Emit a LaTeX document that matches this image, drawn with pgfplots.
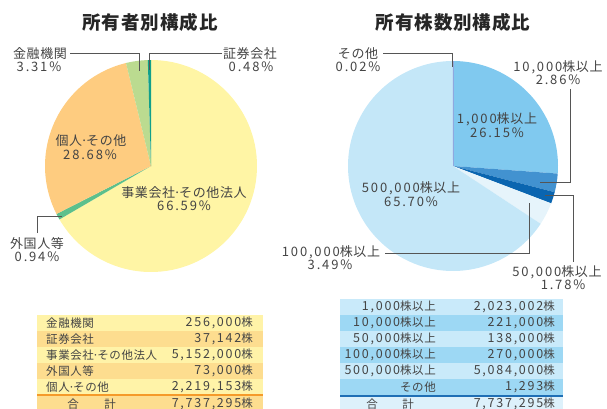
\documentclass[border=0pt]{standalone}
\usepackage{pgfplots}
\pgfplotsset{compat=1.18}
\usepackage{fontspec}
\setmainfont{Noto Sans CJK JP}[LetterSpace=5]
\newfontfamily\numf{Noto Sans CJK JP}[LetterSpace=14]
\newcommand\md{\makebox[0.3em]{·}}
\newcommand\N[1]{{\numf #1}}
\newcommand\TN[1]{{\fontsize{12.5}{12}\numf #1}}
\definecolor{cY}{HTML}{FFF5A5}
\definecolor{cO}{HTML}{FECC80}
\definecolor{cLG}{HTML}{BBDB90}
\definecolor{cG}{HTML}{5CC08C}
\definecolor{cT}{HTML}{12A08A}
\definecolor{b1}{HTML}{80C9EF}
\definecolor{b2}{HTML}{4292D0}
\definecolor{b3}{HTML}{0A65B0}
\definecolor{b4}{HTML}{E6F4FB}
\definecolor{b5}{HTML}{C4E7F8}
\definecolor{b6}{HTML}{8FA8E0}
\definecolor{txt}{HTML}{444444}
\definecolor{lead}{HTML}{555555}
\definecolor{ty1}{HTML}{FFF3A8}
\definecolor{ty2}{HTML}{FDDD8F}
\definecolor{tyl}{HTML}{F59A2A}
\definecolor{tb1}{HTML}{C9EAFA}
\definecolor{tb2}{HTML}{9DD8F4}
\definecolor{tbl}{HTML}{1F6FB5}
\definecolor{tb0}{HTML}{DDF1FB}
\tikzset{
  lab/.style={font=\fontsize{13}{13}\selectfont, text=txt, inner sep=0pt},
  tab/.style={font=\fontsize{11.5}{12}\selectfont, text=txt, inner sep=0pt},
  ttl/.style={font=\fontsize{18.5}{20}\selectfont\bfseries, text=black!85, inner sep=0pt},
  ld/.style={draw=lead, line width=0.9pt}
}
\begin{document}
\begin{tikzpicture}
% left pie: shares by owner (%), clockwise from top
\pgfmathsetmacro\La{90}
\pgfmathsetmacro\Lb{\La-66.59*3.6}
\pgfmathsetmacro\Lc{\Lb-0.94*3.6}
\pgfmathsetmacro\Ld{\Lc-28.68*3.6}
\pgfmathsetmacro\Le{\Ld-3.31*3.6}
\pgfmathsetmacro\Lf{\Le-0.48*3.6}
% right pie: by holding size (%)
\pgfmathsetmacro\Ra{90}
\pgfmathsetmacro\Rb{\Ra-26.15*3.6}
\pgfmathsetmacro\Rc{\Rb-2.86*3.6}
\pgfmathsetmacro\Rd{\Rc-1.78*3.6}
\pgfmathsetmacro\Re{\Rd-3.49*3.6}
\pgfmathsetmacro\Rf{\Re-65.70*3.6}
\pgfmathsetmacro\Rg{\Rf-0.02*3.6}
\begin{axis}[width=607pt,height=409pt,scale only axis,
  xmin=0,xmax=607,ymin=0,ymax=409,y dir=reverse,
  hide axis,clip=false,enlargelimits=false]
% ---------- left pie
\fill[cY] (axis cs:151,166) -- ++(\La:106pt) arc[start angle=\La,end angle=\Lb,radius=106pt] -- cycle;
\fill[cG] (axis cs:151,166) -- ++(\Lb:106pt) arc[start angle=\Lb,end angle=\Lc,radius=106pt] -- cycle;
\fill[cO] (axis cs:151,166) -- ++(\Lc:106pt) arc[start angle=\Lc,end angle=\Ld,radius=106pt] -- cycle;
\fill[cLG] (axis cs:151,166) -- ++(\Ld:106pt) arc[start angle=\Ld,end angle=\Le,radius=106pt] -- cycle;
\fill[cT] (axis cs:151,166) -- ++(\Le:106pt) arc[start angle=\Le,end angle=\Lf,radius=106pt] -- cycle;
% ---------- right pie
\fill[b1] (axis cs:453,166) -- ++(\Ra:105pt) arc[start angle=\Ra,end angle=\Rb,radius=105pt] -- cycle;
\fill[b2] (axis cs:453,166) -- ++(\Rb:105pt) arc[start angle=\Rb,end angle=\Rc,radius=105pt] -- cycle;
\fill[b3] (axis cs:453,166) -- ++(\Rc:105pt) arc[start angle=\Rc,end angle=\Rd,radius=105pt] -- cycle;
\fill[b4] (axis cs:453,166) -- ++(\Rd:105pt) arc[start angle=\Rd,end angle=\Re,radius=105pt] -- cycle;
\fill[b5] (axis cs:453,166) -- ++(\Re:105pt) arc[start angle=\Re,end angle=\Rf,radius=105pt] -- cycle;
\fill[b6] (axis cs:453,166) -- ++(\Rf:105pt) arc[start angle=\Rf,end angle=\Rg,radius=105pt] -- cycle;
\draw[b6, line width=0.9pt] (axis cs:453,166) -- ++(\Rg:105pt);
% ---------- titles
\node[ttl] at (axis cs:150,22) {所有者別構成比};
\node[ttl] at (axis cs:453,22) {所有株数別構成比};
% ---------- left leaders and labels
\draw[ld] (axis cs:70,53) -- (axis cs:139,53) -- (axis cs:139,71);
\draw[ld] (axis cs:222,53) -- (axis cs:149,53) -- (axis cs:149,70);
\draw[ld] (axis cs:37,233) -- (axis cs:37,216) -- (axis cs:62,216);
\node[lab] at (axis cs:40,54) {金融機関};
\node[lab] at (axis cs:39,67) {\N{3.31\%}};
\node[lab] at (axis cs:250,54) {証券会社};
\node[lab] at (axis cs:251,67) {\N{0.48\%}};
\node[lab] at (axis cs:91,141) {個人\md その他};
\node[lab] at (axis cs:90,155) {\N{28.68\%}};
\node[lab] at (axis cs:184,193) {事業会社\md その他法人};
\node[lab] at (axis cs:184,206) {\N{66.59\%}};
\node[lab] at (axis cs:37,244) {外国人等};
\node[lab] at (axis cs:37,257) {\N{0.94\%}};
% ---------- right leaders and labels
\draw[ld] (axis cs:383,53) -- (axis cs:452,53) -- (axis cs:452,67);
\draw[ld] (axis cs:570,89) -- (axis cs:570,182) -- (axis cs:540,182);
\draw[ld] (axis cs:545,195) -- (axis cs:573,195) -- (axis cs:573,262);
\draw[ld] (axis cs:385,253) -- (axis cs:529,253) -- (axis cs:529,203);
\node[lab] at (axis cs:358,54) {その他};
\node[lab] at (axis cs:358,67) {\N{0.02\%}};
\node[lab] at (axis cs:558,67) {\N{10,000}株以上};
\node[lab] at (axis cs:558,80) {\N{2.86\%}};
\node[lab] at (axis cs:497,119) {\N{1,000}株以上};
\node[lab] at (axis cs:497,133) {\N{26.15\%}};
\node[lab] at (axis cs:411,188) {\N{500,000}株以上};
\node[lab] at (axis cs:411,202) {\N{65.70\%}};
\node[lab] at (axis cs:331,252) {\N{100,000}株以上};
\node[lab] at (axis cs:330,265) {\N{3.49\%}};
\node[lab] at (axis cs:557,272) {\N{50,000}株以上};
\node[lab] at (axis cs:563,285) {\N{1.78\%}};
% ---------- left table
\fill[ty1] (axis cs:37,315) rectangle (axis cs:263,331);
\fill[ty2] (axis cs:37,331) rectangle (axis cs:263,347);
\fill[ty1] (axis cs:37,347) rectangle (axis cs:263,363);
\fill[ty2] (axis cs:37,363) rectangle (axis cs:263,379);
\fill[ty1] (axis cs:37,379) rectangle (axis cs:263,395);
\fill[ty2] (axis cs:37,395) rectangle (axis cs:263,412);
\draw[tyl, line width=1.3pt] (axis cs:37,395) -- (axis cs:263,395);
\node[tab,anchor=west] at (axis cs:46,323) {金融機関};
\node[tab,anchor=west] at (axis cs:46,339) {証券会社};
\node[tab,anchor=west] at (axis cs:46,355) {事業会社\md その他法人};
\node[tab,anchor=west] at (axis cs:46,371) {外国人等};
\node[tab,anchor=west] at (axis cs:46,387) {個人\md その他};
\node[tab] at (axis cs:73,404) {合};
\node[tab] at (axis cs:110,404) {計};
\node[tab,anchor=east] at (axis cs:253,323) {\TN{256,000}株};
\node[tab,anchor=east] at (axis cs:253,339) {\TN{37,142}株};
\node[tab,anchor=east] at (axis cs:253,355) {\TN{5,152,000}株};
\node[tab,anchor=east] at (axis cs:253,371) {\TN{73,000}株};
\node[tab,anchor=east] at (axis cs:253,387) {\TN{2,219,153}株};
\node[tab,anchor=east] at (axis cs:253,404) {\TN{7,737,295}株};
% ---------- right table
\fill[tb1] (axis cs:340,299) rectangle (axis cs:563,315);
\fill[tb2] (axis cs:340,315) rectangle (axis cs:563,331);
\fill[tb1] (axis cs:340,331) rectangle (axis cs:563,347);
\fill[tb2] (axis cs:340,347) rectangle (axis cs:563,363);
\fill[tb1] (axis cs:340,363) rectangle (axis cs:563,379);
\fill[tb2] (axis cs:340,379) rectangle (axis cs:563,396);
\fill[tb0] (axis cs:340,396) rectangle (axis cs:563,412);
\draw[tbl, line width=1.3pt] (axis cs:340,396) -- (axis cs:563,396);
\node[tab,anchor=east] at (axis cs:436,307) {\TN{1,000}株以上};
\node[tab,anchor=east] at (axis cs:436,323) {\TN{10,000}株以上};
\node[tab,anchor=east] at (axis cs:436,339) {\TN{50,000}株以上};
\node[tab,anchor=east] at (axis cs:436,355) {\TN{100,000}株以上};
\node[tab,anchor=east] at (axis cs:436,371) {\TN{500,000}株以上};
\node[tab,anchor=east] at (axis cs:436,387) {その他};
\node[tab] at (axis cs:372,404) {合};
\node[tab] at (axis cs:408,404) {計};
\node[tab,anchor=east] at (axis cs:555,307) {\TN{2,023,002}株};
\node[tab,anchor=east] at (axis cs:555,323) {\TN{221,000}株};
\node[tab,anchor=east] at (axis cs:555,339) {\TN{138,000}株};
\node[tab,anchor=east] at (axis cs:555,355) {\TN{270,000}株};
\node[tab,anchor=east] at (axis cs:555,371) {\TN{5,084,000}株};
\node[tab,anchor=east] at (axis cs:555,387) {\TN{1,293}株};
\node[tab,anchor=east] at (axis cs:555,404) {\TN{7,737,295}株};
\end{axis}
\pgfresetboundingbox
\path[use as bounding box] (current axis.south west) rectangle (current axis.north east);
\end{tikzpicture}
\end{document}
